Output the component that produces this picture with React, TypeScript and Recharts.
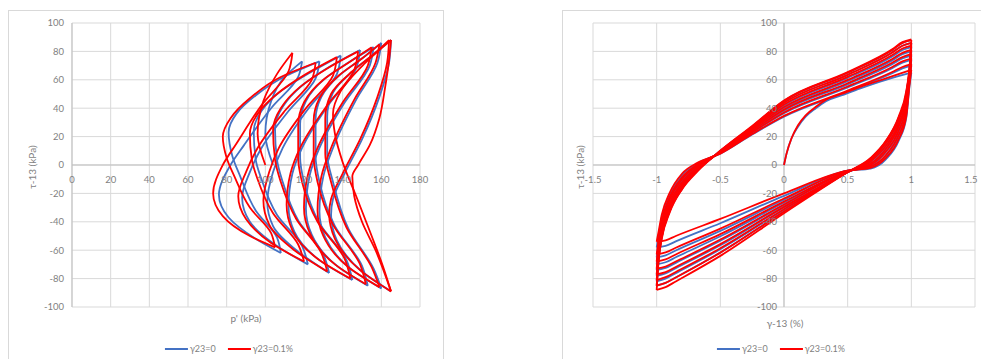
import { ScatterChart, Scatter, XAxis, YAxis, CartesianGrid, ReferenceLine } from "recharts";

const BLUE = "#4472c4";
const RED = "#ff0000";
const GRID = "#d9d9d9";
const AXIS = "#bfbfbf";
const TEXT = "#7f7f7f";
const FONT = "Lato, 'Open Sans', sans-serif";

const seriesNames = ["γ23=0", "γ23=0.1%"];
const pTicks = [0, 20, 40, 60, 80, 100, 120, 140, 160, 180];
const tauTicks = [-100, -80, -60, -40, -20, 0, 20, 40, 60, 80, 100];
const gammaTicks = [-1.5, -1, -0.5, 0, 0.5, 1, 1.5];

// p' - tau stress paths, one half-cycle per row: [p', tau]
const leftBlue = [
  [[104, 0], [100, 22], [103, 45], [110, 62], [119, 73]],
  [[119, 73], [117, 62], [103, 40], [89, 14], [82, 0], [76, -21], [81, -37], [95, -52], [108, -62]],
  [[108, -62], [106, -51], [95, -32], [87, -8], [83, 6], [81, 23], [85, 36], [95, 49], [111, 63], [128, 73]],
  [[128, 73], [126, 61], [112, 38], [98, 12], [92, -5], [88, -23], [92, -40], [106, -57], [122, -70]],
  [[122, -70], [119, -57], [106, -35], [98, -10], [95, 4], [94, 24], [98, 38], [108, 52], [123, 65], [139, 77]],
  [[139, 77], [137, 64], [123, 41], [109, 12], [104, -5], [101, -26], [104, -43], [117, -61], [133, -76]],
  [[133, -76], [130, -63], [117, -39], [109, -12], [106, 4], [105, 26], [109, 41], [119, 56], [133, 69], [149, 81]],
  [[149, 81], [147, 68], [133, 43], [119, 12], [114, -6], [112, -29], [115, -47], [128, -67], [145, -81]],
  [[145, -81], [142, -67], [128, -41], [120, -12], [118, 5], [118, 29], [121, 45], [131, 61], [144, 73], [156, 83]],
  [[156, 83], [154, 70], [141, 44], [128, 12], [123, -7], [121, -31], [124, -49], [137, -71], [153, -85]],
  [[153, -85], [150, -71], [136, -43], [128, -12], [126, 6], [126, 32], [129, 48], [139, 64], [151, 76], [160, 86]],
  [[160, 86], [158, 72], [147, 46], [135, 12], [130, -8], [128, -33], [131, -51], [144, -73], [160, -87]],
  [[160, -87], [156, -73], [143, -45], [135, -12], [132, 8], [132, 34], [135, 51], [146, 67], [157, 79], [165, 88]],
  [[165, 88], [164, 72], [159, 48], [150, 18], [141, -6], [135, -24], [134, -35], [137, -53], [150, -75], [165, -89]],
];

const leftRed = [
  [[100, 0], [96, 22], [99, 45], [106, 64], [114, 79]],
  [[114, 79], [112, 66], [98, 42], [85, 15], [78, 0], [73, -20], [78, -36], [92, -50], [105, -58]],
  [[105, -58], [103, -48], [92, -30], [84, -8], [80, 5], [78, 20], [82, 33], [92, 47], [108, 62], [126, 72]],
  [[126, 72], [124, 60], [110, 38], [96, 12], [90, -5], [86, -22], [90, -38], [103, -55], [120, -68]],
  [[120, -68], [117, -56], [104, -34], [96, -10], [93, 4], [92, 22], [96, 36], [106, 50], [121, 64], [137, 76]],
  [[137, 76], [135, 63], [121, 40], [107, 12], [102, -5], [99, -25], [102, -42], [115, -60], [132, -75]],
  [[132, -75], [129, -62], [116, -38], [108, -12], [105, 4], [104, 25], [108, 40], [118, 55], [132, 68], [148, 80]],
  [[148, 80], [146, 67], [132, 42], [118, 12], [113, -6], [111, -28], [114, -46], [127, -66], [144, -80]],
  [[144, -80], [141, -66], [127, -40], [119, -12], [117, 5], [117, 28], [120, 44], [130, 60], [143, 72], [155, 83]],
  [[155, 83], [153, 70], [140, 44], [127, 12], [122, -7], [120, -30], [123, -48], [136, -70], [152, -84]],
  [[152, -84], [149, -70], [135, -42], [127, -12], [125, 6], [125, 31], [128, 47], [138, 63], [150, 75], [159, 85]],
  [[159, 85], [157, 72], [146, 46], [134, 12], [129, -8], [127, -32], [130, -50], [143, -72], [159, -86]],
  [[159, -86], [155, -72], [142, -44], [134, -12], [131, 8], [131, 33], [134, 50], [145, 66], [156, 78], [164, 88]],
  [[164, 88], [163, 72], [158, 48], [149, 18], [140, -6], [134, -24], [133, -34], [136, -52], [149, -74], [165, -89]],
  [[165, -89], [161, -72], [155, -50], [147, -22], [140, 2], [136, 22], [135, 36], [139, 52], [151, 71], [165, 88]],
  [[165, 88], [164, 74], [162, 55], [159, 33], [154, 14], [148, 0], [145, -8], [146, -22], [150, -40], [157, -60], [165, -89]],
];

// gamma - tau hysteresis loops, one half-cycle per row: [gamma %, tau]
const rightBlue = [
  [[0, 0], [0.02, 8], [0.06, 19], [0.11, 27], [0.17, 34], [0.25, 40], [0.33, 45], [0.45, 49], [0.6, 54], [0.8, 60], [1, 65]],
  [[1, 65], [0.985, 55], [0.96, 33], [0.9, 17], [0.8, 4], [0.68, -2.5], [0.5, -4], [0, -21.7], [-0.5, -41], [-0.85, -53.8], [-0.93, -57], [-1, -58]],
  [[-1, -58], [-0.985, -50], [-0.96, -37], [-0.9, -21.5], [-0.8, -7], [-0.68, 1], [-0.5, 8], [-0.25, 21.5], [0, 34], [0.5, 51.7], [0.85, 64.6], [0.93, 68], [1, 70]],
  [[1, 70], [0.985, 58], [0.96, 36], [0.9, 20], [0.8, 6.5], [0.68, -1.5], [0.5, -4], [0, -24.5], [-0.5, -46.4], [-0.85, -60.2], [-0.93, -63.6], [-1, -65]],
  [[-1, -65], [-0.985, -54], [-0.96, -40.5], [-0.9, -24], [-0.8, -9], [-0.68, 0], [-0.5, 8.5], [-0.25, 22.7], [0, 36.5], [0.5, 54.6], [0.85, 68.2], [0.93, 72], [1, 74]],
  [[1, 74], [0.985, 60], [0.96, 40], [0.9, 23], [0.8, 9], [0.68, -0.5], [0.5, -4.5], [0, -26.6], [-0.5, -50.2], [-0.85, -65], [-0.93, -68.5], [-1, -70]],
  [[-1, -70], [-0.985, -57], [-0.96, -43], [-0.9, -26], [-0.8, -11], [-0.68, -1], [-0.5, 9], [-0.25, 23.6], [0, 38.3], [0.5, 56.8], [0.85, 71], [0.93, 75], [1, 77]],
  [[1, 77], [0.985, 62], [0.96, 43], [0.9, 26], [0.8, 11], [0.68, 0.5], [0.5, -4.5], [0, -28.3], [-0.5, -53.3], [-0.85, -68.9], [-0.93, -72.5], [-1, -74]],
  [[-1, -74], [-0.985, -60], [-0.96, -45.5], [-0.9, -28], [-0.8, -12.5], [-0.68, -2], [-0.5, 9], [-0.25, 24.6], [0, 40.1], [0.5, 59], [0.85, 73.7], [0.93, 78], [1, 80]],
  [[1, 80], [0.985, 64], [0.96, 45.5], [0.9, 28.5], [0.8, 13], [0.68, 2], [0.5, -5], [0, -29.9], [-0.5, -56.5], [-0.85, -72.7], [-0.93, -76.4], [-1, -78]],
  [[-1, -78], [-0.985, -62.5], [-0.96, -47.5], [-0.9, -30], [-0.8, -14], [-0.68, -3], [-0.5, 9.5], [-0.25, 25.5], [0, 41.9], [0.5, 61.3], [0.85, 76.4], [0.93, 81], [1, 83]],
  [[1, 83], [0.985, 65.5], [0.96, 48], [0.9, 31], [0.8, 15], [0.68, 3], [0.5, -5], [0, -31.5], [-0.5, -59.3], [-0.85, -76.2], [-0.93, -80], [-1, -82]],
  [[-1, -82], [-0.985, -65], [-0.96, -49.5], [-0.9, -32], [-0.8, -15.5], [-0.68, -3.5], [-0.5, 9.5], [-0.25, 26.4], [0, 43.8], [0.5, 63.5], [0.85, 79.2], [0.93, 84], [1, 86]],
  [[1, 86], [0.985, 67], [0.96, 50.5], [0.9, 33], [0.8, 16.5], [0.68, 4.5], [0.5, -5], [0, -32.8], [-0.5, -61.7], [-0.85, -79.2], [-0.93, -83], [-1, -85]],
  [[-1, -85], [-0.985, -67], [-0.96, -51], [-0.9, -33], [-0.8, -16.5], [-0.68, -4], [-0.5, 10], [-0.25, 27], [0, 45], [0.5, 65], [0.85, 81], [0.93, 86], [1, 88]],
];

const rightRed = [
  [[0, 0], [0.02, 8], [0.06, 19], [0.11, 28], [0.17, 35], [0.25, 41], [0.33, 46], [0.45, 50], [0.6, 55], [0.8, 61], [1, 67]],
  [[1, 67], [0.985, 56], [0.96, 34], [0.9, 18], [0.8, 5], [0.68, -2], [0.5, -4], [0, -20], [-0.5, -38], [-0.85, -50], [-0.93, -53], [-1, -54]],
  [[-1, -54], [-0.985, -47], [-0.96, -35], [-0.9, -20], [-0.8, -6], [-0.68, 1.5], [-0.5, 8], [-0.25, 21.8], [0, 34.6], [0.5, 52.4], [0.85, 65.5], [0.93, 69], [1, 71]],
  [[1, 71], [0.985, 58.5], [0.96, 37], [0.9, 21], [0.8, 7], [0.68, -1], [0.5, -4], [0, -23.6], [-0.5, -44.8], [-0.85, -58.3], [-0.93, -61.6], [-1, -63]],
  [[-1, -63], [-0.985, -53], [-0.96, -39.5], [-0.9, -23], [-0.8, -8.5], [-0.68, 0.5], [-0.5, 8.5], [-0.25, 23], [0, 37], [0.5, 55.3], [0.85, 69], [0.93, 73], [1, 75]],
  [[1, 75], [0.985, 61], [0.96, 41], [0.9, 24], [0.8, 9.5], [0.68, 0], [0.5, -4.5], [0, -25.8], [-0.5, -48.7], [-0.85, -63], [-0.93, -66.5], [-1, -68]],
  [[-1, -68], [-0.985, -56], [-0.96, -42], [-0.9, -25], [-0.8, -10], [-0.68, -0.5], [-0.5, 9], [-0.25, 24], [0, 39], [0.5, 57.6], [0.85, 72], [0.93, 76], [1, 78]],
  [[1, 78], [0.985, 63], [0.96, 44], [0.9, 27], [0.8, 11.5], [0.68, 1], [0.5, -4.5], [0, -27.8], [-0.5, -52.5], [-0.85, -68], [-0.93, -71.5], [-1, -73]],
  [[-1, -73], [-0.985, -59], [-0.96, -45], [-0.9, -27.5], [-0.8, -12], [-0.68, -1.5], [-0.5, 9], [-0.25, 24.9], [0, 40.8], [0.5, 59.9], [0.85, 74.7], [0.93, 79], [1, 81]],
  [[1, 81], [0.985, 64.5], [0.96, 46], [0.9, 29], [0.8, 13.5], [0.68, 2.5], [0.5, -5], [0, -29.5], [-0.5, -55.7], [-0.85, -71.8], [-0.93, -75.4], [-1, -77]],
  [[-1, -77], [-0.985, -62], [-0.96, -47], [-0.9, -29.5], [-0.8, -13.5], [-0.68, -2.5], [-0.5, 9.5], [-0.25, 25.8], [0, 42.6], [0.5, 62.1], [0.85, 77.4], [0.93, 82], [1, 84]],
  [[1, 84], [0.985, 66], [0.96, 49], [0.9, 31.5], [0.8, 15.5], [0.68, 3.5], [0.5, -5], [0, -31.1], [-0.5, -58.6], [-0.85, -75.3], [-0.93, -79], [-1, -81]],
  [[-1, -81], [-0.985, -64], [-0.96, -49], [-0.9, -31.5], [-0.8, -15], [-0.68, -3.5], [-0.5, 9.5], [-0.25, 26.4], [0, 43.8], [0.5, 63.5], [0.85, 79.2], [0.93, 84], [1, 86]],
  [[1, 86], [0.985, 67], [0.96, 50.5], [0.9, 33], [0.8, 16.5], [0.68, 4.5], [0.5, -5], [0, -32.8], [-0.5, -61.7], [-0.85, -79.2], [-0.93, -83], [-1, -85]],
  [[-1, -85], [-0.985, -67], [-0.96, -51], [-0.9, -33], [-0.8, -16.5], [-0.68, -4], [-0.5, 10], [-0.25, 27], [0, 45], [0.5, 65], [0.85, 81], [0.93, 86], [1, 88]],
  [[1, 88], [0.985, 68], [0.96, 52], [0.9, 34], [0.8, 17], [0.68, 5], [0.5, -5], [0, -34], [-0.5, -64], [-0.85, -82], [-0.93, -86], [-1, -88]],
  [[-1, -88], [-0.985, -68], [-0.96, -52], [-0.9, -34], [-0.8, -17], [-0.68, -4.5], [-0.5, 10], [-0.25, 27.5], [0, 45.5], [0.5, 65.5], [0.85, 81.5], [0.93, 86.5], [1, 88.5]],
];

// layout
const PLOT_TOP = 23;
const PLOT_BOTTOM = 307;
const ZERO_Y = (PLOT_TOP + PLOT_BOTTOM) / 2;
const R_LEFT = 31;
const R_RIGHT = 413;
const R_ZERO_X = (R_LEFT + R_RIGHT) / 2;

const tickText = { fontSize: 9.5, fill: TEXT, fontFamily: FONT };

const toPoints = (seg: number[][]) => seg.map(([x, y]) => ({ x, y }));
const noDot = () => null;

function loopLines(segs: number[][][], color: string, joint: string, tag: string) {
  return segs.map((seg, i) => (
    <Scatter
      key={`${tag}-${i}`}
      data={toPoints(seg)}
      fill={color}
      line={{ stroke: color, strokeWidth: 1.8 }}
      lineJointType={joint as any}
      shape={noDot}
      isAnimationActive={false}
    />
  ));
}

const ZeroXTick = ({ x, payload }: any) => (
  <text x={x} y={ZERO_Y + 18} textAnchor="middle" {...tickText}>
    {payload.value}
  </text>
);

const ZeroYTick = ({ y, payload }: any) => (
  <text x={R_ZERO_X - 7} y={y} dy="0.35em" textAnchor="end" {...tickText}>
    {payload.value}
  </text>
);

function Title({ x, y, text, vertical }: { x: number; y: number; text: string; vertical?: boolean }) {
  return (
    <div
      style={{
        position: "absolute",
        left: x,
        top: y,
        transform: `translate(-50%, -50%)${vertical ? " rotate(-90deg)" : ""}`,
        fontSize: 10,
        color: TEXT,
        fontFamily: FONT,
        whiteSpace: "nowrap",
      }}
    >
      {text}
    </div>
  );
}

function LegendRow({ cx }: { cx: number }) {
  return (
    <div
      style={{
        position: "absolute",
        left: cx,
        top: 343,
        transform: "translateX(-50%)",
        display: "flex",
        alignItems: "center",
        gap: 12,
        fontSize: 9,
        lineHeight: "12px",
        color: TEXT,
        fontFamily: FONT,
        whiteSpace: "nowrap",
      }}
    >
      {[BLUE, RED].map((c, i) => (
        <span key={i} style={{ display: "flex", alignItems: "center", gap: 2 }}>
          <span style={{ display: "inline-block", width: 23, height: 2, background: c }} />
          {seriesNames[i]}
        </span>
      ))}
    </div>
  );
}

export default function App() {
  return (
    <div
      style={{
        position: "absolute",
        left: 0,
        top: 0,
        width: 981,
        height: 359,
        background: "#fff",
        overflow: "hidden",
      }}
    >
      <div style={{ position: "absolute", left: 8, top: 10, width: 434, height: 360, border: `1px solid ${GRID}` }} />
      <div style={{ position: "absolute", left: 562, top: 10, width: 440, height: 360, border: `1px solid ${GRID}` }} />

      <div style={{ position: "absolute", left: 0, top: 0 }}>
        <ScatterChart width={442} height={359} margin={{ top: PLOT_TOP, right: 22, bottom: 32, left: 32 }}>
          <CartesianGrid stroke={GRID} />
          <XAxis
            type="number"
            dataKey="x"
            domain={[0, 180]}
            ticks={pTicks}
            allowDataOverflow
            height={20}
            axisLine={false}
            tickLine={false}
            tick={ZeroXTick}
          />
          <YAxis
            type="number"
            dataKey="y"
            domain={[-100, 100]}
            ticks={tauTicks}
            allowDataOverflow
            width={40}
            axisLine={false}
            tickLine={false}
            tick={tickText}
          />
          <ReferenceLine y={0} stroke={AXIS} />
          <ReferenceLine x={0} stroke={AXIS} />
          {loopLines(leftBlue, BLUE, "monotoneY", "lb")}
          {loopLines(leftRed, RED, "monotoneY", "lr")}
        </ScatterChart>
      </div>

      <div style={{ position: "absolute", left: 562, top: 0 }}>
        <ScatterChart width={419} height={359} margin={{ top: PLOT_TOP, right: 6, bottom: 32, left: 1 }}>
          <CartesianGrid stroke={GRID} />
          <XAxis
            type="number"
            dataKey="x"
            domain={[-1.5, 1.5]}
            ticks={gammaTicks}
            allowDataOverflow
            height={20}
            axisLine={false}
            tickLine={false}
            tick={ZeroXTick}
          />
          <YAxis
            type="number"
            dataKey="y"
            domain={[-100, 100]}
            ticks={tauTicks}
            allowDataOverflow
            width={30}
            axisLine={false}
            tickLine={false}
            tick={ZeroYTick}
          />
          <ReferenceLine y={0} stroke={AXIS} />
          <ReferenceLine x={0} stroke={AXIS} />
          {loopLines(rightBlue, BLUE, "monotoneX", "rb")}
          {loopLines(rightRed, RED, "monotoneX", "rr")}
        </ScatterChart>
      </div>

      <Title x={32} y={167} text="τ-13 (kPa)" vertical />
      <Title x={246} y={318} text="p' (kPa)" />
      <Title x={580} y={167} text="τ-13 (kPa)" vertical />
      <Title x={785} y={323} text="γ-13 (%)" />
      <LegendRow cx={229} />
      <LegendRow cx={781} />
    </div>
  );
}
